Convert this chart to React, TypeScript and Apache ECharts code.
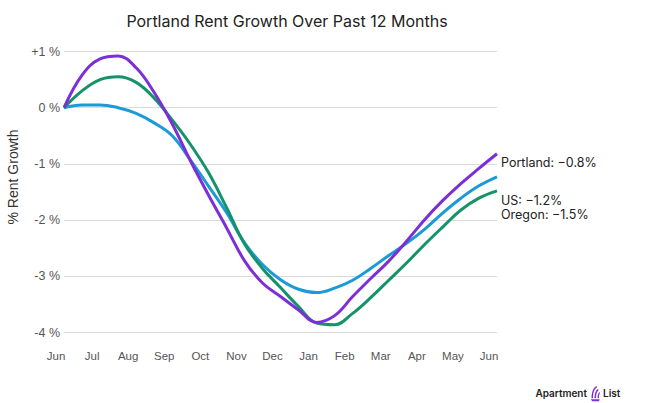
import React, { useEffect, useRef } from "react";
import * as echarts from "echarts";

// Semi-monthly points: month start, mid-month, next month start, ...
const periods = [
  "Jun", "mid Jun", "Jul", "mid Jul", "Aug", "mid Aug", "Sep", "mid Sep", "Oct", "mid Oct",
  "Nov", "mid Nov", "Dec", "mid Dec", "Jan", "mid Jan", "Feb", "mid Feb", "Mar", "mid Mar",
  "Apr", "mid Apr", "May", "mid May", "Jun ",
];
const portland = [
  0, 0.58, 0.87, 0.92, 0.71, 0.27, -0.29, -0.94, -1.55, -2.13, -2.72, -3.12, -3.36,
  -3.6, -3.82, -3.7, -3.36, -3.04, -2.73, -2.37, -1.99, -1.65, -1.35, -1.08, -0.82,
];
const oregon = [
  0, 0.3, 0.5, 0.55, 0.45, 0.17, -0.22, -0.65, -1.15, -1.77, -2.42, -2.86, -3.2,
  -3.54, -3.83, -3.86, -3.66, -3.38, -3.07, -2.76, -2.43, -2.12, -1.82, -1.61, -1.48,
];
const us = [
  0, 0.05, 0.05, 0.0, -0.1, -0.27, -0.5, -0.93, -1.39, -1.86, -2.4, -2.79, -3.06,
  -3.23, -3.29, -3.21, -3.07, -2.86, -2.63, -2.41, -2.16, -1.87, -1.61, -1.39, -1.23,
];
const yTicks: Record<string, string> = { "1": "+1 %", "0": "0 %", "-1": "-1 %", "-2": "-2 %", "-3": "-3 %", "-4": "-4 %" };

const LOGO_D =
  "M2 14 C2 7 5 2 9 1 L9 3 C6 4 4 8 4 14 Z M6 14 C6 9 8 5 11 4 L11 6 C9 7 8 10 8 14 Z M10 14 C10 11 11 8 13 7 L13 9 C12 10 12 12 12 14 Z M1 15 L13 15 L12 17 L3 17 Z";

export default function App() {
  const ref = useRef<HTMLDivElement>(null);
  useEffect(() => {
    if (!ref.current) return;
    try {
      echarts.graphic.registerShape("logo", echarts.graphic.extendPath(LOGO_D, {}));
    } catch (e) {}
    const chart = echarts.init(ref.current, null, { renderer: "svg" });
    const endLabel = (offsetY: number) => ({
      show: true,
      distance: 4,
      offset: [0, offsetY],
      color: "#222",
      fontFamily: "Inter",
      fontSize: 12.5,
      formatter: (p: any) => `${p.seriesName}: \u2212${Math.abs(p.value).toFixed(1)}%`,
    });
    const mk = (name: string, data: number[], color: string, off: number) => ({
      name,
      type: "line",
      data,
      smooth: 0.4,
      symbol: "none",
      lineStyle: { color, width: 3 },
      itemStyle: { color },
      endLabel: endLabel(off),
    });
    const txt = (text: string, x: number, y: number, font: string, align: string, fill: string, rotation = 0) => ({
      type: "text",
      x,
      y,
      rotation,
      style: {
        text,
        fill,
        font,
        align,
        verticalAlign: "middle",
        textAlign: align,
        textVerticalAlign: "middle",
      },
    });
    chart.setOption({
      animation: false,
      backgroundColor: "#fff",
      title: {
        text: "Portland Rent Growth Over Past 12 Months",
        left: 282,
        top: 8,
        textAlign: "center",
        textStyle: { fontFamily: "Inter", fontSize: 16, fontWeight: 400, color: "#222" },
      },
      grid: { left: 64, right: 153, top: 51.5, bottom: 70.5 },
      xAxis: {
        type: "category",
        data: periods,
        boundaryGap: false,
        axisLine: { show: false },
        axisTick: { show: false },
        axisLabel: {
          interval: 1,
          color: "#555",
          fontFamily: "Liberation Sans",
          fontSize: 11.5,
          margin: 17,
          padding: [0, 16, 0, 0],
          formatter: (v: string) => v.trim(),
        },
        splitLine: { show: false },
      },
      yAxis: {
        type: "value",
        min: -4,
        max: 1,
        interval: 1,
        axisLine: { show: false },
        axisTick: { show: false },
        axisLabel: {
          color: "#555",
          fontFamily: "Liberation Sans",
          fontSize: 12.5,
          margin: 4,
          formatter: (v: number) => yTicks[String(v)] ?? String(v),
        },
        splitLine: { lineStyle: { color: "#dcdcdc", width: 1 } },
      },
      series: [
        mk("US", us, "#1a9ad6", 24),
        mk("Oregon", oregon, "#14936b", 24),
        mk("Portland", portland, "#7c2fd7", 9),
      ],
      graphic: [
        txt("% Rent Growth", 13, 177, "14px 'Liberation Sans'", "center", "#333", Math.PI / 2),
        txt("Apartment", 587, 393, "600 10px Inter", "right", "#222"),
        {
          type: "logo",
          x: 590,
          y: 385,
          scaleX: 0.75,
          scaleY: 0.95,
          style: { fill: "#7c2fd7" },
        },
        txt("List", 603, 393, "600 10px Inter", "left", "#222"),
      ],
    });
    return () => chart.dispose();
  }, []);
  return <div ref={ref} style={{ position: "absolute", left: 0, top: 0, width: 650, height: 403 }} />;
}
